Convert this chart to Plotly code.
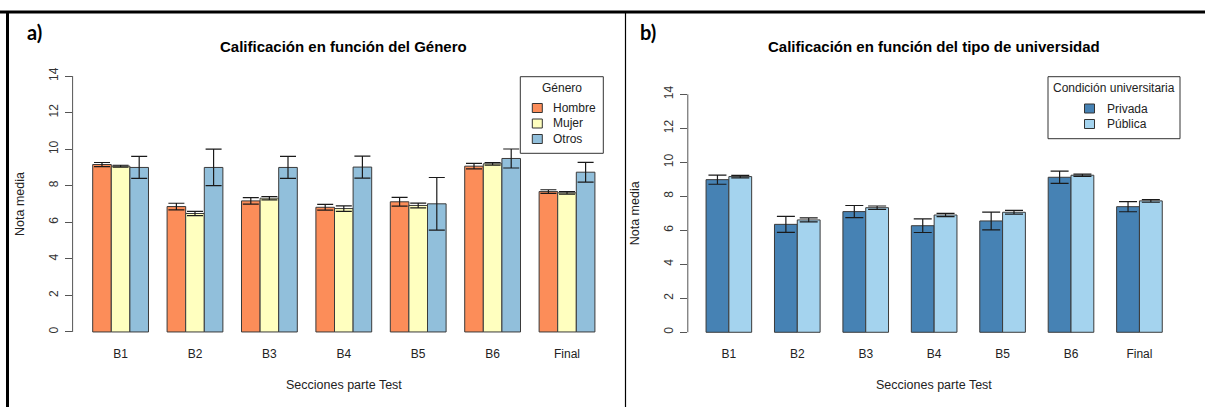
import plotly.graph_objects as go

W, H = 1205, 407

# ---------------- data ----------------
secciones = ["B1", "B2", "B3", "B4", "B5", "B6", "Final"]

hombre = [9.16, 6.86, 7.17, 6.82, 7.12, 9.07, 7.68]
hombre_err = [0.11, 0.18, 0.18, 0.16, 0.24, 0.15, 0.10]
mujer = [9.07, 6.48, 7.32, 6.75, 6.92, 9.20, 7.61]
mujer_err = [0.05, 0.12, 0.09, 0.15, 0.13, 0.07, 0.07]
otros = [9.00, 9.00, 9.00, 9.02, 7.01, 9.49, 8.74]
otros_err = [0.60, 1.00, 0.60, 0.60, 1.44, 0.52, 0.54]

privada = [8.98, 6.35, 7.10, 6.27, 6.55, 9.12, 7.39]
privada_err = [0.27, 0.47, 0.36, 0.40, 0.52, 0.36, 0.30]
publica = [9.16, 6.61, 7.33, 6.90, 7.06, 9.24, 7.73]
publica_err = [0.07, 0.12, 0.10, 0.10, 0.11, 0.07, 0.08]

y_ticks = [0, 2, 4, 6, 8, 10, 12, 14]

genero_names = ["Hombre", "Mujer", "Otros"]
genero_colors = ["#FC8D59", "#FFFFBF", "#91BFDB"]
univ_names = ["Privada", "Pública"]
univ_colors = ["#4682B4", "#A4D3EE"]

# ---------------- helpers ----------------
def px_x(p):
    return p / W

def px_y(p):
    return 1 - p / H

FONT = "Liberation Sans, Arial, sans-serif"
OUTLINE = "#3a3a3a"

fig = go.Figure()

def add_bar(name, vals, errs, color, xa, ya, width, offset, cap):
    fig.add_trace(go.Bar(
        name=name, x=secciones, y=vals,
        xaxis=xa, yaxis=ya,
        width=width, offset=offset,
        marker=dict(color=color, line=dict(color=OUTLINE, width=1)),
        error_y=dict(type="data", array=errs, visible=True,
                     color="#1a1a1a", thickness=1.2, width=cap),
        showlegend=False,
    ))

# left panel: 3 bars per group (gap = one bar width)
bw = 0.25
for name, vals, errs, col, off in zip(genero_names, [hombre, mujer, otros],
                                      [hombre_err, mujer_err, otros_err],
                                      genero_colors, [-0.375, -0.125, 0.125]):
    add_bar(name, vals, errs, col, "x", "y", bw, off, 8)

# right panel: 2 bars per group
bw2 = 1 / 3
for name, vals, errs, col, off in zip(univ_names, [privada, publica],
                                      [privada_err, publica_err],
                                      univ_colors, [-1 / 3, 0]):
    add_bar(name, vals, errs, col, "x2", "y2", bw2, off, 9)

# plot regions (pixel based)
L = dict(x0=72.6, x1=615.0, top=65.8, bottom=342.2)
R = dict(x0=687.8, x1=1180.5, top=84.8, bottom=341.8)

xcommon = dict(type="category", showline=False, showgrid=False, ticks="",
               zeroline=False, tickfont=dict(family=FONT, size=12, color="#222"),
               ticklabelstandoff=3)
ycommon = dict(range=[-0.56, 14.56], tickvals=y_ticks, showline=False,
               showgrid=False, zeroline=False, ticks="outside", ticklen=7,
               tickcolor="#555", tickwidth=1, tickangle=-90,
               tickfont=dict(family=FONT, size=12, color="#333"),
               ticklabelstandoff=2)

fig.update_layout(
    width=W, height=H,
    margin=dict(l=0, r=0, t=0, b=0),
    paper_bgcolor="white", plot_bgcolor="white",
    barmode="overlay",
    font=dict(family=FONT, color="#222"),
    xaxis=dict(domain=[px_x(L["x0"]), px_x(L["x1"])], range=[-0.645, 6.645],
               anchor="y", **xcommon),
    yaxis=dict(domain=[px_y(L["bottom"]), px_y(L["top"])], anchor="x", **ycommon),
    xaxis2=dict(domain=[px_x(R["x0"]), px_x(R["x1"])], range=[-0.6, 6.6],
                anchor="y2", **xcommon),
    yaxis2=dict(domain=[px_y(R["bottom"]), px_y(R["top"])], anchor="x2", **ycommon),
    showlegend=False,
)

# y-axis lines only spanning 0..14 (R style)
for xd, yr in (("x domain", "y"), ("x2 domain", "y2")):
    fig.add_shape(type="line", xref=xd, yref=yr, x0=0, x1=0, y0=0, y1=14,
                  line=dict(color="#555", width=1))

# frame lines
fig.add_shape(type="line", xref="paper", yref="paper", x0=0, x1=1,
              y0=px_y(12), y1=px_y(12), line=dict(color="black", width=3))
fig.add_shape(type="line", xref="paper", yref="paper", x0=px_x(7.5), x1=px_x(7.5),
              y0=0, y1=px_y(11), line=dict(color="black", width=3))
fig.add_shape(type="line", xref="paper", yref="paper", x0=px_x(625.5), x1=px_x(625.5),
              y0=0, y1=px_y(12), line=dict(color="black", width=1.2))

def ann(text, x, y, size, bold=False, angle=0, family=FONT, color="#222", xanchor="center"):
    fig.add_annotation(text=f"<b>{text}</b>" if bold else text,
                       xref="paper", yref="paper", x=px_x(x), y=px_y(y),
                       xanchor=xanchor, yanchor="middle", showarrow=False,
                       textangle=angle, font=dict(family=family, size=size, color=color))

def rect(x0, y0, x1, y1, fill, line="#333", width=1):
    fig.add_shape(type="rect", xref="paper", yref="paper",
                  x0=px_x(x0), x1=px_x(x1), y0=px_y(y1), y1=px_y(y0),
                  fillcolor=fill, line=dict(color=line, width=width))

ann("a)", 34, 32, 20, bold=True, family="Lato, Liberation Sans, sans-serif", color="black")
ann("b)", 648, 32, 20, bold=True, family="Lato, Liberation Sans, sans-serif", color="black")
ann("Calificación en función del Género", (L["x0"] + L["x1"]) / 2, 46, 15, bold=True, color="black")
ann("Calificación en función del tipo de universidad", (R["x0"] + R["x1"]) / 2, 46, 15, bold=True, color="black")
ann("Nota media", 20, (L["top"] + L["bottom"]) / 2, 12.5, angle=-90)
ann("Nota media", 635, (R["top"] + R["bottom"]) / 2, 12.5, angle=-90)
ann("Secciones parte Test", (L["x0"] + L["x1"]) / 2, 385, 12.5)
ann("Secciones parte Test", (R["x0"] + R["x1"]) / 2, 385, 12.5)

# legends (R style boxes)
def legend_box(x0, x1, y0, y1, title, names, colors, sq_x, txt_x, first_y, step):
    rect(x0, y0, x1, y1, "white")
    ann(title, (x0 + x1) / 2, y0 + 11.5, 12)
    for i, (n, c) in enumerate(zip(names, colors)):
        yc = first_y + i * step
        rect(sq_x, yc - 4.5, sq_x + 10, yc + 4.5, c)
        ann(n, txt_x, yc, 12, xanchor="left")

legend_box(520.3, 603.3, 76.7, 153.3, "Género", genero_names, genero_colors,
           532.3, 550.5, 108, 15.5)
legend_box(1048, 1180, 76.7, 138.7, "Condición universitaria", univ_names, univ_colors,
           1084.5, 1104.5, 108.5, 15.5)

fig.write_html(
    "out.html",
    config={"displayModeBar": False},
    post_script="document.body.style.margin='0';document.body.style.padding='0';"
                "document.body.style.overflow='hidden';",
)
